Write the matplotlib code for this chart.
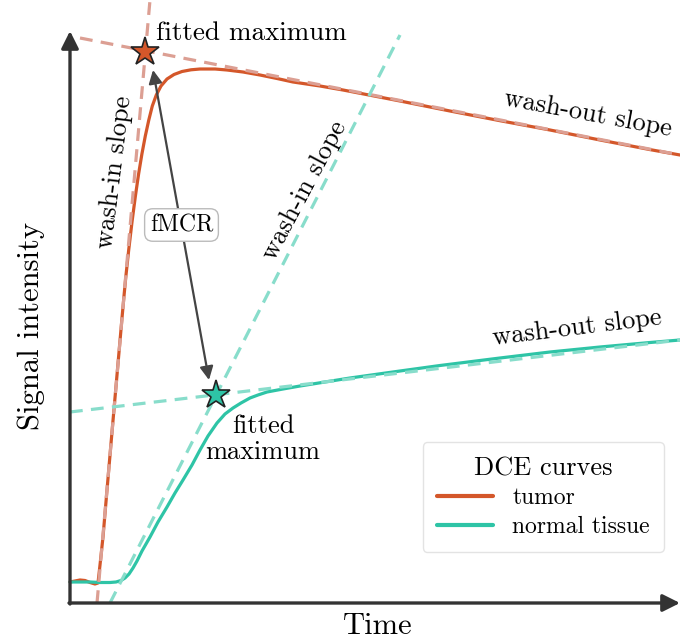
import matplotlib
matplotlib.use("Agg")
import matplotlib.pyplot as plt

plt.rcParams['font.family'] = ['cmr10', 'DejaVu Serif']
plt.rcParams['axes.unicode_minus'] = False
plt.rcParams['mathtext.fontset'] = 'cm'

# ---- data (time, signal intensity), arbitrary units ----
tumor_t = [0, 5, 10, 15, 20, 25, 28, 30, 33, 37, 42, 47, 52, 53.9, 55.8, 58.7, 62,
           65.4, 68.6, 71.9, 75.3, 78.8, 82.3, 86.3, 91, 97, 104, 112, 121, 130, 145,
           157, 173, 190, 207, 223, 250, 273, 330, 380, 430, 480, 530, 580, 610]
tumor_s = [21, 22, 23, 22.5, 20.5, 19, 20, 38, 66, 113, 171, 228, 285, 306, 326, 353,
           381, 407, 429, 449, 467, 483, 497, 508, 517, 524, 528.5, 531.5, 533.2, 534,
           534, 533, 531, 528, 524.5, 521, 517, 513, 502, 492, 482.3, 473, 463, 453.4, 448]

normal_t = [0, 10, 20, 30, 40, 46, 51, 55, 59, 63, 67, 72, 80, 88, 97, 105, 113, 122,
            130, 138, 147, 155, 163, 171, 180, 188, 197, 213, 230, 255, 280, 330, 370,
            430, 480, 530, 580, 610]
normal_s = [21, 21, 21, 20.5, 20.5, 21, 22.5, 25, 29, 35, 42, 52, 66, 81, 96, 110, 123,
            138, 153, 167, 180, 189, 195, 200, 205, 208, 211, 214, 217, 221, 225, 232,
            237.5, 245, 251, 256, 260.5, 263]

# fitted slopes (end points of the dashed guide lines)
tumor_washin_t = [27, 80]
tumor_washin_s = [0, 603]
tumor_washout_t = [10, 610]
tumor_washout_s = [565, 448]
normal_washin_t = [40, 330]
normal_washin_s = [0, 568]
normal_washout_t = [0, 610]
normal_washout_s = [191, 263]

# fitted maxima
tumor_max = (75, 551)
normal_max = (146, 208)

TUMOR = '#D4572A'
NORMAL = '#2EC4A6'
TUMOR_FIT = '#DC9F93'
NORMAL_FIT = '#88DDCB'
AXC = '#333333'

fig = plt.figure(figsize=(6.8, 6.4), dpi=100)
ax = fig.add_axes([0, 0, 1, 1])
ax.set_xlim(-70, 610)
ax.set_ylim(-37, 603)
ax.axis('off')

# curves
ax.plot(tumor_t, tumor_s, color=TUMOR, lw=2.3, solid_capstyle='round',
        solid_joinstyle='round', zorder=3, label='tumor')
ax.plot(normal_t, normal_s, color=NORMAL, lw=2.3, solid_capstyle='round',
        solid_joinstyle='round', zorder=3, label='normal tissue')

# dashed fitted lines
dash = dict(lw=2.3, linestyle=(0, (4, 2.6)), zorder=4)
ax.plot(tumor_washin_t, tumor_washin_s, color=TUMOR_FIT, **dash)
ax.plot(tumor_washout_t, tumor_washout_s, color=TUMOR_FIT, **dash)
ax.plot(normal_washin_t, normal_washin_s, color=NORMAL_FIT, **dash)
ax.plot(normal_washout_t, normal_washout_s, color=NORMAL_FIT, **dash)

# stars
ax.plot(*tumor_max, marker='*', markersize=21, markerfacecolor=TUMOR,
        markeredgecolor='#222222', markeredgewidth=1.2, zorder=6, linestyle='none')
ax.plot(*normal_max, marker='*', markersize=21, markerfacecolor=NORMAL,
        markeredgecolor='#222222', markeredgewidth=1.2, zorder=6, linestyle='none')

# axes arrows
ax.annotate('', xy=(0, 572), xytext=(0, -1),
            arrowprops=dict(arrowstyle='-|>', lw=2.4, color=AXC, mutation_scale=26,
                            shrinkA=0, shrinkB=0), zorder=5)
ax.annotate('', xy=(610, 0), xytext=(-1, 0),
            arrowprops=dict(arrowstyle='-|>', lw=2.4, color=AXC, mutation_scale=26,
                            shrinkA=0, shrinkB=0), zorder=5)

# fMCR double arrow
ax.annotate('', xy=(83, 533), xytext=(139, 223),
            arrowprops=dict(arrowstyle='<|-|>', lw=1.6, color='#444444', mutation_scale=20,
                            shrinkA=0, shrinkB=0), zorder=5)
ax.text(111.5, 378, 'fMCR', fontsize=17, ha='center', va='center', zorder=7,
        bbox=dict(boxstyle='round,pad=0.22,rounding_size=0.35', fc='white', ec='#BBBBBB', lw=1.0))

# labels
ax.text(-39, 277, 'Signal intensity', fontsize=22, rotation=90, ha='center', va='center')
ax.text(308, -23, 'Time', fontsize=22, ha='center', va='center')

ax.text(86, 570, 'fitted maximum', fontsize=19.5, ha='left', va='center')
ax.text(193, 164, 'fitted\nmaximum', fontsize=19, ha='center', va='center',
        multialignment='center', linespacing=1.1)
ax.text(45, 431, 'wash-in slope', fontsize=19, rotation=83, ha='center', va='center',
        rotation_mode='anchor')
ax.text(235, 413, 'wash-in slope', fontsize=19, rotation=62, ha='center', va='center',
        rotation_mode='anchor')
ax.text(518, 489, 'wash-out slope', fontsize=19, rotation=-10.5, ha='center', va='center',
        rotation_mode='anchor')
ax.text(507, 275, 'wash-out slope', fontsize=19, rotation=7, ha='center', va='center',
        rotation_mode='anchor')

leg = ax.legend(title='DCE curves', loc='lower right', bbox_to_anchor=(664 / 680, 88 / 640),
                bbox_transform=fig.transFigure, fontsize=17, title_fontsize=19,
                frameon=True, fancybox=True, edgecolor='#DDDDDD', handlelength=2.4,
                borderaxespad=0, borderpad=0.6, labelspacing=0.28, handletextpad=0.8)
leg.get_frame().set_linewidth(1.0)
for line in leg.get_lines():
    line.set_linewidth(3)

fig.savefig('out.png', dpi=100)
